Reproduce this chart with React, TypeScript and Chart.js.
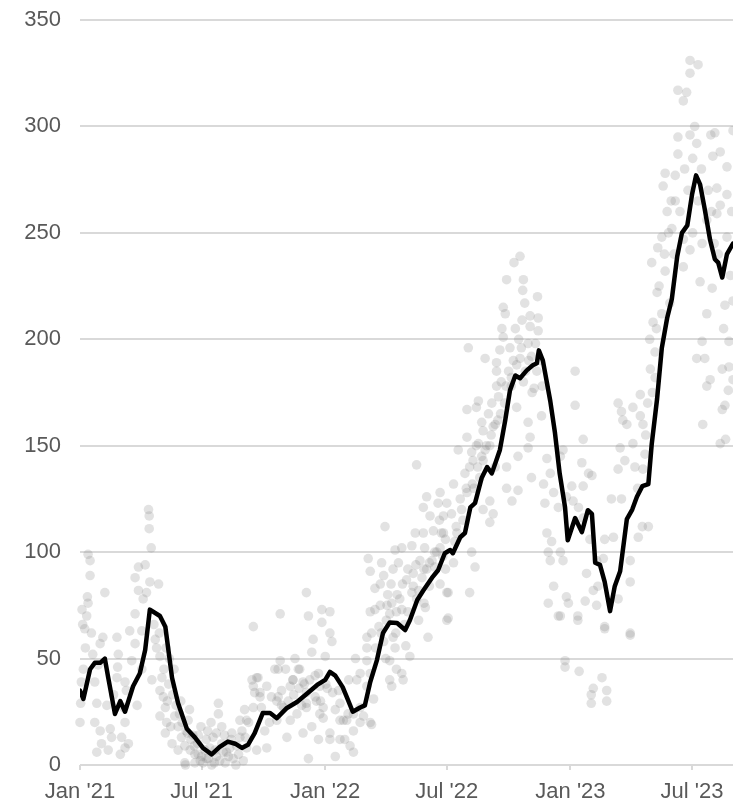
import { useEffect, useRef } from "react";
import { Chart, registerables } from "chart.js";

Chart.register(...registerables);

// Days counted from 1 Jan 2021
const tickDays = [0, 181, 365, 546, 730, 911];
const tickLabels = ["Jan '21", "Jul '21", "Jan '22", "Jul '22", "Jan '23", "Jul '23"];
const yMin = 0;
const yMax = 350;
const yStep = 50;
const xMax = 972;

// Moving average line: [day, value]
const movingAverage: [number, number][] = [
  [0, 35], [5, 31], [15, 45], [22, 48], [30, 48], [37, 50], [42, 41], [52, 24], [60, 30], [67, 25],
  [79, 37], [89, 43], [97, 54], [104, 73], [119, 70], [127, 65], [137, 41], [146, 29], [159, 17],
  [171, 13], [183, 8], [196, 5], [208, 8.5], [220, 11], [231, 10], [241, 8], [250, 9.5], [260, 15],
  [272, 24.4], [283, 24.4], [293, 22], [308, 26.8], [323, 29.6], [339, 33.8], [353, 37.6], [365, 40],
  [372, 43.7], [380, 42], [391, 36.6], [399, 30.5], [406, 25], [417, 27], [424, 28], [432, 39],
  [442, 49.3], [451, 62], [461, 67], [472, 66.7], [484, 63.4], [491, 68], [502, 77.5], [511, 82],
  [524, 88], [533, 91.5], [543, 99.5], [551, 101], [555, 99.5], [566, 107], [573, 109], [581, 121],
  [588, 123], [598, 135], [606, 140], [613, 137], [625, 148], [633, 162], [640, 176], [648, 183],
  [655, 181.7], [665, 185.4], [674, 187.8], [680, 188.7], [683, 194.8], [689, 190], [700, 171],
  [707, 156], [714, 137], [722, 121], [726, 105.6], [737, 116], [747, 109.4], [756, 119.7], [762, 118],
  [767, 95], [774, 94], [781, 86], [789, 72.3], [796, 84], [804, 91], [814, 115.5], [822, 120],
  [829, 126], [837, 131], [846, 132], [851, 150.7], [859, 172], [866, 195.8], [874, 210], [881, 219],
  [889, 239], [896, 250], [904, 253.5], [911, 268], [917, 277], [923, 272.8], [930, 261], [938, 246.5],
  [945, 237.6], [950, 236], [956, 229], [963, 240], [972, 245],
];

// Daily observations: [day, value]
const dailyPoints: [number, number][] = [
  [12, 99], [15, 96], [15, 89], [11, 79], [12, 76], [10, 70], [7, 64], [17, 62], [37, 81], [34, 60],
  [30, 57], [5, 45], [19, 52], [2, 39], [1, 29], [0, 20], [22, 39], [25, 29], [22, 20], [30, 16],
  [32, 10], [25, 6], [45, 17], [47, 13], [42, 7], [55, 60], [57, 52], [56, 46], [55, 41], [67, 39],
  [69, 35], [65, 27], [67, 20], [62, 13], [67, 8], [72, 10], [74, 63], [82, 71], [82, 57], [77, 49],
  [87, 93], [97, 94], [82, 88], [87, 82], [94, 78], [102, 120], [103, 117], [103, 111], [106, 102],
  [117, 85], [104, 86], [99, 81], [112, 59], [114, 55], [119, 51], [107, 40], [92, 63], [122, 41],
  [119, 35], [124, 32], [127, 27], [119, 23], [129, 20], [127, 15], [137, 10], [141, 23], [146, 18],
  [151, 13], [156, 9], [161, 21], [146, 7], [164, 7], [171, 5], [179, 2], [171, 1], [181, 4], [191, 3],
  [198, 13], [206, 29], [206, 24], [211, 18], [218, 6], [226, 15], [233, 9], [241, 16], [251, 20],
  [258, 27], [258, 37], [256, 40], [258, 65], [246, 13], [186, 7], [201, 7], [211, 10], [221, 4],
  [156, 1], [157, 0], [200, 1], [232, 0], [225, 12], [3, 73], [4, 66], [8, 55], [27, 47], [40, 28],
  [50, 33], [60, 5], [85, 28], [92, 45], [110, 66], [130, 30], [135, 18], [150, 30], [160, 15],
  [175, 10], [188, 12], [195, 20], [215, 14], [238, 21], [245, 26],
  [125, 45], [132, 38], [138, 33], [143, 28], [148, 24], [152, 20], [158, 16], [165, 12], [170, 9],
  [176, 14], [133, 50], [140, 45], [118, 62], [128, 55],
  [176, 5], [183, 1], [188, 3], [193, 8], [196, 0], [203, 4], [208, 2], [213, 6], [216, 1], [223, 8],
  [228, 3], [236, 5], [243, 2], [248, 8], [203, 15], [190, 16], [168, 14], [163, 26], [180, 18],
  [298, 71], [337, 81], [340, 70], [360, 73], [372, 72], [360, 67], [372, 62], [375, 58], [347, 59],
  [345, 53], [365, 51], [298, 49], [290, 45], [263, 41], [278, 37], [260, 34], [268, 32], [285, 32],
  [295, 32], [303, 27], [317, 40], [327, 45], [332, 39], [337, 34], [350, 32], [357, 37], [355, 43],
  [337, 29], [362, 27], [357, 24], [380, 26], [387, 29], [392, 21], [399, 24], [407, 16], [394, 12],
  [402, 9], [407, 6], [380, 4], [387, 12], [372, 12], [340, 3], [332, 15], [308, 13], [278, 8],
  [263, 7], [275, 16], [293, 21], [313, 21], [323, 24], [417, 27], [422, 23], [434, 19], [427, 37],
  [417, 43], [412, 40], [432, 43], [427, 49], [437, 31], [427, 60], [434, 62], [432, 72], [439, 73],
  [447, 75], [457, 75], [454, 112], [429, 97], [432, 91], [439, 83], [449, 95], [452, 89], [447, 85],
  [238, 13], [248, 21], [268, 34], [265, 41], [293, 30], [295, 45], [313, 37], [317, 40], [325, 45],
  [337, 27], [352, 30], [362, 22], [372, 15], [387, 21], [397, 21], [407, 24], [417, 20], [432, 20],
  [427, 55], [270, 27], [282, 20], [300, 35], [306, 45], [320, 50], [330, 28], [345, 18], [355, 12],
  [368, 36], [385, 35], [400, 40], [410, 50],
  [300, 28], [310, 30], [318, 33], [326, 36], [334, 38], [342, 40], [350, 42], [358, 30], [366, 38],
  [376, 34],
  [469, 101], [479, 102], [474, 95], [466, 92], [461, 71], [471, 72], [479, 73], [466, 60], [469, 55],
  [461, 49], [471, 45], [479, 43], [481, 40], [461, 40], [464, 37], [491, 51], [486, 87], [494, 81],
  [501, 78], [514, 74], [518, 60], [504, 68], [511, 109], [499, 109], [494, 103], [506, 96], [516, 92],
  [524, 96], [501, 141], [511, 121], [521, 117], [516, 126], [533, 123], [536, 128], [526, 110],
  [538, 109], [528, 93], [536, 85], [546, 81], [546, 68],
  [445, 65], [452, 58], [458, 80], [463, 85], [476, 78], [483, 66], [488, 92], [496, 90], [509, 88],
  [513, 102], [520, 84], [531, 100], [535, 115], [540, 98], [544, 92], [455, 50], [470, 62], [485, 56],
  [500, 94], [512, 76],
  [440, 55], [448, 62], [456, 68], [464, 76], [472, 80], [480, 85], [488, 72], [496, 84], [504, 82],
  [512, 92], [520, 95], [528, 100], [536, 102], [544, 106],
  [655, 239], [646, 236], [635, 228], [660, 228], [659, 223], [681, 220], [662, 217], [630, 215],
  [633, 212], [628, 205], [658, 209], [670, 211], [682, 210], [670, 206], [682, 204], [630, 201],
  [578, 196], [640, 196], [657, 196], [667, 198], [625, 195], [603, 191], [620, 189], [655, 191],
  [620, 185], [737, 185], [676, 177], [620, 178], [623, 173], [613, 170], [593, 171], [590, 168],
  [576, 167], [598, 161], [650, 168], [687, 164], [737, 169], [667, 161], [615, 159], [600, 157],
  [670, 154], [576, 154], [593, 151], [563, 148], [583, 147], [603, 148], [667, 149], [749, 153],
  [652, 145], [695, 144], [635, 140], [585, 143], [573, 137], [556, 132], [546, 123], [610, 124],
  [600, 120], [615, 118], [610, 114], [672, 135], [635, 130], [643, 124], [652, 129], [690, 132],
  [692, 123], [705, 128], [715, 145], [719, 148], [700, 137], [712, 121], [724, 126], [732, 131],
  [734, 124], [747, 142], [757, 137], [749, 131], [742, 121], [749, 116], [695, 109], [702, 105],
  [697, 100], [700, 96], [715, 100], [719, 96], [705, 84], [697, 76], [724, 79], [727, 76], [715, 70],
  [741, 68], [752, 77], [764, 82], [754, 90], [769, 96], [548, 69], [580, 81], [548, 81], [588, 93],
  [583, 100], [556, 95], [561, 109], [541, 109], [541, 117],
  [553, 118], [558, 105], [566, 125], [570, 115], [575, 130], [580, 140], [586, 130], [590, 150],
  [595, 135], [598, 145], [605, 150], [608, 165], [612, 155], [618, 140], [622, 162], [627, 180],
  [632, 170], [638, 185], [642, 178], [645, 190], [648, 205], [653, 200], [663, 185], [668, 190],
  [673, 175], [678, 198], [685, 190], [688, 178],
  [560, 112], [568, 120], [576, 128], [584, 132], [592, 140], [600, 143], [610, 150], [618, 160],
  [626, 165], [634, 178], [642, 182], [650, 188], [660, 180], [672, 192], [680, 185],
  [722, 49], [722, 46], [743, 44], [761, 29], [761, 33], [764, 36], [777, 41], [784, 35], [784, 30],
  [781, 65], [819, 62], [712, 70], [741, 70],
  [908, 331], [920, 329], [908, 325], [890, 317], [903, 316], [898, 312], [890, 295], [890, 287],
  [908, 296], [915, 300], [918, 292], [945, 297], [953, 288], [942, 286], [963, 281], [871, 278],
  [886, 277], [868, 272], [948, 271], [963, 268], [886, 265], [953, 263], [874, 260], [933, 256],
  [948, 259], [881, 252], [866, 248], [860, 243], [898, 247], [908, 242], [926, 245], [963, 248],
  [912, 250], [851, 236], [871, 232], [898, 234], [923, 227], [941, 224], [960, 216], [859, 222],
  [878, 217], [933, 212], [853, 208], [866, 212], [848, 200], [856, 194], [926, 199], [918, 191],
  [930, 191], [849, 186], [956, 186], [856, 182], [933, 178], [938, 181], [956, 167], [927, 160],
  [953, 151], [834, 174], [834, 164], [823, 168], [808, 162], [801, 170], [806, 166], [814, 160],
  [823, 151], [838, 160], [841, 146], [838, 139], [804, 149], [811, 143], [801, 139], [806, 125],
  [791, 125], [794, 107], [781, 106], [837, 112], [846, 112], [831, 107], [819, 96], [819, 86],
  [801, 78], [779, 97], [762, 136], [759, 106], [771, 84], [781, 64], [819, 61], [769, 75],
  [826, 140], [830, 130], [842, 155], [845, 170], [852, 175], [858, 205], [862, 225], [870, 240],
  [876, 250], [880, 265], [884, 240], [893, 260], [900, 280], [905, 270], [912, 285], [920, 265],
  [925, 280], [935, 270], [940, 260], [944, 245],
  [972, 298], [939, 296], [965, 176], [961, 153], [966, 187], [966, 199], [972, 218], [972, 181],
  [960, 169], [950, 240], [968, 230], [970, 260], [958, 205],
];

const FONT = "'Liberation Sans', Arial, Helvetica, sans-serif";
const TEXT = "#595959";
const GRID = "#d9d9d9";

export default function App() {
  const ref = useRef<HTMLCanvasElement | null>(null);

  useEffect(() => {
    if (!ref.current) return;
    const chart = new Chart(ref.current, {
      type: "line",
      data: {
        datasets: [
          {
            type: "line",
            data: movingAverage.map(([x, y]) => ({ x, y })),
            borderColor: "#000000",
            borderWidth: 4.5,
            pointRadius: 0,
            tension: 0,
            borderJoinStyle: "round",
            borderCapStyle: "round",
            order: 0,
          } as any,
          {
            type: "scatter",
            data: dailyPoints.map(([x, y]) => ({ x, y })),
            pointRadius: 4.8,
            pointBackgroundColor: "rgba(125,125,125,0.22)",
            pointBorderWidth: 0,
            borderWidth: 0,
            showLine: false,
            order: 1,
            clip: false,
          } as any,
        ],
      },
      options: {
        animation: false,
        responsive: false,
        devicePixelRatio: 1,
        layout: { autoPadding: false, padding: { top: 20, right: 0, left: 0, bottom: 0 } },
        plugins: { legend: { display: false }, tooltip: { enabled: false } },
        scales: {
          x: {
            type: "linear",
            min: 0,
            max: xMax,
            afterBuildTicks: (axis: any) => {
              axis.ticks = tickDays.map((v) => ({ value: v }));
            },
            afterFit: (scale: any) => {
              scale.height = 39;
              scale.paddingLeft = 0;
              scale.paddingRight = 0;
            },
            grid: {
              drawOnChartArea: false,
              drawTicks: true,
              tickLength: 5,
              color: GRID,
              lineWidth: 2,
            },
            border: { display: false },
            ticks: {
              autoSkip: false,
              maxRotation: 0,
              padding: 9,
              color: TEXT,
              font: { family: FONT, size: 22 },
              callback: (v: any) => {
                const i = tickDays.indexOf(Number(v));
                return i >= 0 ? tickLabels[i] : "";
              },
            },
          },
          y: {
            min: yMin,
            max: yMax,
            afterFit: (scale: any) => {
              scale.width = 80;
              scale.paddingTop = 0;
              scale.paddingBottom = 0;
            },
            grid: { color: GRID, lineWidth: 2, drawTicks: false },
            border: { display: false },
            ticks: {
              stepSize: yStep,
              padding: 19,
              color: TEXT,
              font: { family: FONT, size: 22 },
            },
          },
        },
      },
    });
    return () => chart.destroy();
  }, []);

  return (
    <div style={{ position: "absolute", left: 0, top: 0, width: 733, height: 804, background: "#fff" }}>
      <canvas ref={ref} width={733} height={804} />
    </div>
  );
}
